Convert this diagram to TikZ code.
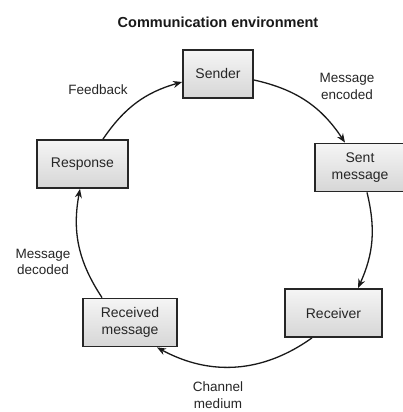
\documentclass[tikz,border=0pt]{standalone}
\usepackage{fontspec}
\setmainfont{Liberation Sans}
\usetikzlibrary{arrows.meta}
\begin{document}
\begin{tikzpicture}[x=1pt,y=1pt,
  stagebox/.style={draw=black!85, line width=1.8pt, top color=gray!8, bottom color=gray!32,
    minimum height=48pt, inner sep=0pt, align=center, font=\fontsize{14}{16.5}\selectfont, text=black!85},
  caption/.style={align=center, font=\fontsize{13.5}{16.5}\selectfont, text=black!85},
  flow/.style={draw=black!90, line width=1.3pt, -{Stealth[length=9pt,width=7pt]}}]
  \clip (0,0) rectangle (403,412);
  \fill[white] (0,0) rectangle (403,412);

  % heading
  \node[font=\bfseries\fontsize{14.5}{17}\selectfont, text=black!90] (title) at (218,390) {Communication environment};

  % the five stages of the cycle
  \node[stagebox, minimum width=70pt] (sender)   at (218,338)   {Sender};
  \node[stagebox, minimum width=90pt] (sent)     at (360,244.5) {Sent\\message};
  \node[stagebox, minimum width=97pt] (receiver) at (333.5,99)  {Receiver};
  \node[stagebox, minimum width=94pt] (received) at (130,89.5)  {Received\\message};
  \node[stagebox, minimum width=91pt] (response) at (82.5,248)  {Response};

  % arc labels
  \node[caption] (lfeed) at (98,322)    {Feedback};
  \node[caption] (lenc)  at (347,325.5) {Message\\encoded};
  \node[caption] (ldec)  at (43,150)    {Message\\decoded};
  \node[caption] (lchan) at (218,17)    {Channel\\medium};

  % clockwise connectors
  \draw[flow] ([xshift=20.5pt]response.north) to[bend left=20] ([yshift=-8pt]sender.west);
  \draw[flow] ([yshift=-6pt]sender.east) to[bend left=22] ([xshift=-15pt]sent.north);
  \draw[flow] ([xshift=7pt]sent.south) to[bend left=19] ([xshift=24.5pt]receiver.north);
  \draw[flow] ([xshift=-21.5pt]receiver.south) to[bend left=32] ([xshift=27pt]received.south);
  \draw[flow] ([xshift=-28pt]received.north) to[bend left=22] ([xshift=-2.5pt]response.south);
\end{tikzpicture}
\end{document}
